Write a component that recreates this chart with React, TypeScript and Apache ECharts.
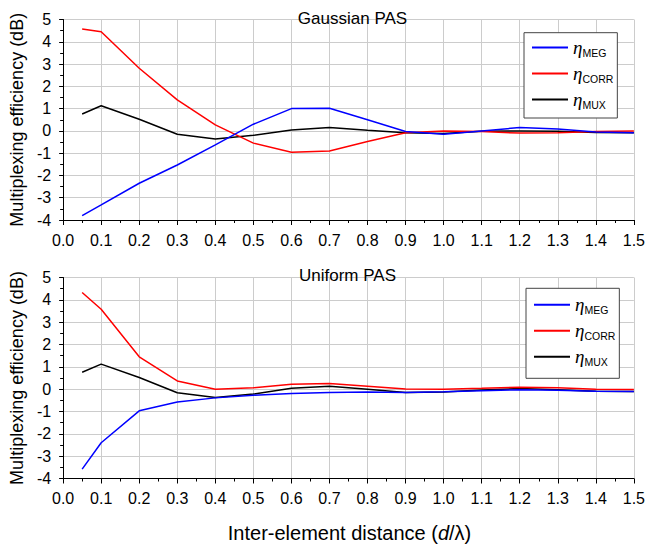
import React, { useEffect, useRef } from "react";
import * as echarts from "echarts";

const xValues = [0.05, 0.1, 0.2, 0.3, 0.4, 0.5, 0.6, 0.7, 0.8, 0.9, 1.0, 1.1, 1.2, 1.3, 1.4, 1.5];

const gaussMEG = [-3.8, -3.32, -2.35, -1.53, -0.63, 0.3, 1.0, 1.02, 0.5, -0.03, -0.15, 0.0, 0.15, 0.08, -0.05, -0.08];
const gaussCORR = [4.57, 4.45, 2.81, 1.39, 0.27, -0.55, -0.96, -0.9, -0.48, -0.08, 0.0, -0.03, -0.1, -0.08, -0.03, 0.0];
const gaussMUX = [0.76, 1.13, 0.52, -0.15, -0.36, -0.2, 0.04, 0.15, 0.03, -0.08, -0.12, -0.02, 0.0, -0.02, -0.07, -0.08];

const uniMEG = [-3.58, -2.4, -0.97, -0.57, -0.39, -0.27, -0.19, -0.15, -0.13, -0.15, -0.12, -0.07, -0.03, -0.05, -0.09, -0.1];
const uniCORR = [4.33, 3.58, 1.45, 0.37, 0.0, 0.06, 0.22, 0.25, 0.13, 0.01, 0.0, 0.04, 0.09, 0.06, 0.0, -0.01];
const uniMUX = [0.76, 1.12, 0.52, -0.16, -0.37, -0.22, 0.04, 0.13, 0.0, -0.15, -0.13, -0.04, 0.03, -0.03, -0.09, -0.1];

const seriesNames = ["MEG", "CORR", "MUX"];
const seriesColors = ["#0000ff", "#ff0000", "#000000"];
const panelTitles = ["Gaussian PAS", "Uniform PAS"];
const yAxisTitle = "Multiplexing efficiency (dB)";

const FONT = "Liberation Sans, Arial, sans-serif";

const zip = (ys: number[]) => xValues.map((x, i) => [x, ys[i]]);

export default function App() {
  const ref = useRef<HTMLDivElement>(null);
  useEffect(() => {
    if (!ref.current) return;
    const chart = echarts.init(ref.current, undefined, { renderer: "svg" });

    const grids = [
      { left: 62.5, right: 14, top: 19.5, height: 200.5 },
      { left: 62.5, right: 14, top: 277.5, height: 201 },
    ];

    const xAxis = [0, 1].map((i) => ({
      type: "value",
      gridIndex: i,
      min: 0,
      max: 1.5,
      interval: 0.1,
      name: i === 1 ? "{n|Inter-element distance (}{i|d}{n|/λ)}" : "",
      nameLocation: "middle",
      nameGap: 44,
      nameTextStyle: {
        padding: [0, 0, 0, 2],
        rich: {
          n: { fontFamily: FONT, fontSize: 20, color: "#000" },
          i: { fontFamily: FONT, fontSize: 20, color: "#000", fontStyle: "italic" },
        },
      },
      axisLine: { show: true, onZero: false, lineStyle: { color: "#000", width: 1 } },
      axisTick: { show: true, length: 5, lineStyle: { color: "#000" } },
      minorTick: { show: true, splitNumber: 2, length: 3, lineStyle: { color: "#000" } },
      splitLine: { show: true, lineStyle: { color: "#cccccc", width: 1 } },
      axisLabel: {
        fontFamily: FONT,
        fontSize: 16,
        color: "#000",
        margin: 12,
        formatter: (v: number) => v.toFixed(1),
      },
    }));

    const yAxis = [0, 1].map((i) => ({
      type: "value",
      gridIndex: i,
      min: -4,
      max: 5,
      interval: 1,
      name: yAxisTitle,
      nameLocation: "middle",
      nameGap: 36,
      nameTextStyle: { fontFamily: FONT, fontSize: 18, color: "#000" },
      axisLine: { show: true, onZero: false, lineStyle: { color: "#000", width: 1 } },
      axisTick: { show: true, length: 4, lineStyle: { color: "#000" } },
      minorTick: { show: true, splitNumber: 2, length: 3, lineStyle: { color: "#000" } },
      splitLine: { show: true, lineStyle: { color: "#cccccc", width: 1 } },
      axisLabel: { fontFamily: FONT, fontSize: 16, color: "#000", margin: 12 },
    }));

    const data = [
      [gaussMEG, gaussCORR, gaussMUX],
      [uniMEG, uniCORR, uniMUX],
    ];

    const series: any[] = [];
    data.forEach((panel, gi) => {
      panel.forEach((ys, si) => {
        series.push({
          type: "line",
          name: seriesNames[si],
          xAxisIndex: gi,
          yAxisIndex: gi,
          data: zip(ys),
          symbol: "none",
          lineStyle: { color: seriesColors[si], width: 1.5 },
          itemStyle: { color: seriesColors[si] },
          z: 3 - si,
        });
      });
    });

    const legendBase = {
      orient: "vertical",
      data: seriesNames,
      icon: "rect",
      itemWidth: 36,
      itemHeight: 2,
      itemGap: 5.5,
      borderColor: "#444",
      borderWidth: 1,
      backgroundColor: "#fff",
      selectedMode: false,
      formatter: (name: string) => `{e|η}{s|${name}}`,
      textStyle: {
        rich: {
          e: { fontFamily: "Liberation Serif, serif", fontStyle: "italic", fontSize: 19, lineHeight: 22, color: "#000" },
          s: { fontFamily: FONT, fontSize: 10.5, lineHeight: 12, verticalAlign: "bottom", color: "#000" },
        },
      },
    };

    const option: any = {
      animation: false,
      title: panelTitles.map((t, i) => ({
        text: t,
        left: i === 0 ? 352.5 : 347.5,
        textAlign: "center",
        top: i === 0 ? 10 : 266.5,
        padding: 0,
        textStyle: { fontFamily: FONT, fontSize: 17, fontWeight: "normal", color: "#000" },
      })),
      grid: grids,
      xAxis,
      yAxis,
      legend: [
        { ...legendBase, left: 524, top: 32.7, padding: [5.3, 4, 7.5, 8] },
        { ...legendBase, left: 526, top: 288.3, padding: [7, 4, 10.5, 8] },
      ],
      series,
    };

    chart.setOption(option);
    return () => chart.dispose();
  }, []);

  return (
    <div
      ref={ref}
      style={{ position: "fixed", left: 0, top: 0, width: 648, height: 544, background: "#fff" }}
    />
  );
}
